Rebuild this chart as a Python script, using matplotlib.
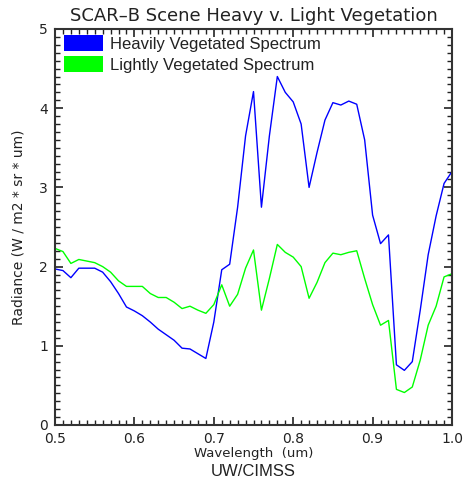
import numpy as np
import matplotlib
matplotlib.use("Agg")
import matplotlib.pyplot as plt
from matplotlib.patches import Patch
from matplotlib.ticker import MultipleLocator

# wavelength grid (um) and radiance values
wavelength = [0.50, 0.51, 0.52, 0.53, 0.54, 0.55, 0.56, 0.57, 0.58, 0.59,
              0.60, 0.61, 0.62, 0.63, 0.64, 0.65, 0.66, 0.67, 0.68, 0.69,
              0.70, 0.71, 0.72, 0.73, 0.74, 0.75, 0.76, 0.77, 0.78, 0.79,
              0.80, 0.81, 0.82, 0.83, 0.84, 0.85, 0.86, 0.87, 0.88, 0.89,
              0.90, 0.91, 0.92, 0.93, 0.94, 0.95, 0.96, 0.97, 0.98, 0.99,
              1.00]

heavy = [1.97, 1.95, 1.86, 1.98, 1.98, 1.98, 1.93, 1.81, 1.66, 1.49,
         1.44, 1.38, 1.30, 1.21, 1.14, 1.07, 0.97, 0.96, 0.90, 0.84,
         1.30, 1.96, 2.03, 2.75, 3.65, 4.21, 2.75, 3.65, 4.40, 4.20,
         4.08, 3.80, 3.00, 3.44, 3.85, 4.07, 4.04, 4.09, 4.05, 3.60,
         2.65, 2.29, 2.40, 0.76, 0.69, 0.80, 1.45, 2.15, 2.64, 3.05,
         3.20]

light = [2.23, 2.19, 2.04, 2.09, 2.07, 2.05, 2.00, 1.93, 1.82, 1.75,
         1.75, 1.75, 1.66, 1.61, 1.61, 1.55, 1.47, 1.50, 1.45, 1.41,
         1.52, 1.77, 1.50, 1.65, 1.98, 2.21, 1.45, 1.85, 2.28, 2.18,
         2.12, 2.00, 1.60, 1.80, 2.05, 2.17, 2.15, 2.18, 2.20, 1.85,
         1.52, 1.26, 1.32, 0.45, 0.41, 0.48, 0.82, 1.26, 1.50, 1.87,
         1.91]

fig = plt.figure(figsize=(4.65, 4.80), dpi=100)
ax = fig.add_axes([55/465, 1 - 425/480, 397/465, 396/480])

ax.plot(wavelength, heavy, color='#0000ff', lw=1.0)
ax.plot(wavelength, light, color='#00ff00', lw=1.0)

ax.set_xlim(0.5, 1.0)
ax.set_ylim(0, 5)
ax.xaxis.set_major_locator(MultipleLocator(0.1))
ax.xaxis.set_minor_locator(MultipleLocator(0.01))
ax.yaxis.set_major_locator(MultipleLocator(1))
ax.yaxis.set_minor_locator(MultipleLocator(0.1))
ax.set_xticklabels(['0.5', '0.6', '0.7', '0.8', '0.9', '1.0'])
ax.set_xticks([0.5, 0.6, 0.7, 0.8, 0.9, 1.0])
ax.set_xticklabels(['0.5', '0.6', '0.7', '0.8', '0.9', '1.0'])
ax.set_yticks([0, 1, 2, 3, 4, 5])
ax.set_yticklabels(['0', '1', '2', '3', '4', '5'])

ax.tick_params(which='both', direction='in', top=True, right=True,
               color='#222222', labelsize=10, labelcolor='#222222', pad=5)
ax.tick_params(which='major', length=6, width=1.2)
ax.tick_params(which='minor', length=3.5, width=1.0)
for s in ax.spines.values():
    s.set_linewidth(1.5)
    s.set_color('#333333')

ax.set_title('SCAR\u2013B Scene Heavy v. Light Vegetation', fontsize=13,
             color='#222222', pad=6)
ax.set_ylabel('Radiance (W / m2 * sr * um)', fontsize=10, color='#222222',
              labelpad=10)
ax.set_xlabel('Wavelength  (um)', fontsize=9.5, color='#222222', labelpad=1)
fig.text(ax.get_position().x0 + ax.get_position().width / 2, 1 - 471/480,
         'UW/CIMSS', ha='center', va='center', fontsize=12,
         family='Liberation Sans', color='#222222')

handles = [Patch(facecolor='#0000ff', edgecolor='none'),
           Patch(facecolor='#00ff00', edgecolor='none')]
ax.legend(handles, ['Heavily Vegetated Spectrum', 'Lightly Vegetated Spectrum'],
          loc='upper left', bbox_to_anchor=(9/397, 1 - 6/396), frameon=False,
          prop={'family': 'Liberation Sans', 'size': 12},
          handlelength=2.35, handleheight=1.1, handletextpad=0.42,
          labelspacing=0.28, borderpad=0, borderaxespad=0,
          labelcolor='#222222')

fig.savefig('out.png', dpi=100)
